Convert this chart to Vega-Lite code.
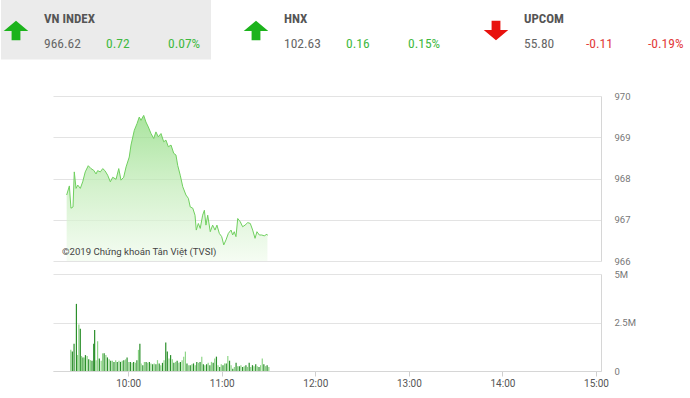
{
  "$schema": "https://vega.github.io/schema/vega-lite/v6.json",
  "padding": 0,
  "autosize": {"type": "pad"},
  "bounds": "flush",
  "spacing": 13,
  "background": "white",
  "config": {
    "view": {"stroke": null},
    "font": "Roboto",
    "axis": {"labelFont": "Roboto", "labelColor": "#777", "gridColor": "#e3e3e3", "domainColor": "#d6d6d6", "tickColor": "#cfcfcf"}
  },
  "datasets": {
    "header": [
      {"name": "VN INDEX", "slot": 0, "value": "966.62", "change": "0.72", "pct": "0.07%", "dir": "up", "selected": true},
      {"name": "HNX", "slot": 1, "value": "102.63", "change": "0.16", "pct": "0.15%", "dir": "up", "selected": false},
      {"name": "UPCOM", "slot": 2, "value": "55.80", "change": "-0.11", "pct": "-0.19%", "dir": "down", "selected": false}
    ],
    "note": [{"text": "©2019 Chứng khoán Tân Việt (TVSI)", "m": 560.7, "p": 966.22}],
    "price": [
      {"m": 563.6, "p": 967.60}, {"m": 565.3, "p": 967.82}, {"m": 566.3, "p": 967.28}, {"m": 567.6, "p": 967.31},
      {"m": 568.4, "p": 968.16}, {"m": 569.5, "p": 967.76}, {"m": 570.6, "p": 967.84}, {"m": 572.2, "p": 967.76},
      {"m": 573.7, "p": 967.92}, {"m": 575.3, "p": 968.16}, {"m": 577.2, "p": 968.31}, {"m": 578.9, "p": 968.24},
      {"m": 580.6, "p": 968.20}, {"m": 582.1, "p": 968.11}, {"m": 583.1, "p": 968.19}, {"m": 584.8, "p": 968.16},
      {"m": 586.3, "p": 968.24}, {"m": 587.7, "p": 968.19}, {"m": 589.4, "p": 968.08}, {"m": 591.1, "p": 967.92},
      {"m": 592.6, "p": 968.03}, {"m": 594.7, "p": 967.98}, {"m": 596.4, "p": 968.24}, {"m": 597.8, "p": 967.96},
      {"m": 599.5, "p": 968.03}, {"m": 601.0, "p": 968.28}, {"m": 603.0, "p": 968.52}, {"m": 604.1, "p": 968.81},
      {"m": 606.2, "p": 969.17}, {"m": 607.9, "p": 969.33}, {"m": 609.3, "p": 969.49}, {"m": 610.4, "p": 969.41},
      {"m": 612.1, "p": 969.53}, {"m": 613.5, "p": 969.37}, {"m": 615.0, "p": 969.25}, {"m": 616.7, "p": 969.09},
      {"m": 618.4, "p": 968.97}, {"m": 619.8, "p": 969.13}, {"m": 621.3, "p": 969.01}, {"m": 623.0, "p": 969.09},
      {"m": 624.7, "p": 968.89}, {"m": 626.1, "p": 968.93}, {"m": 627.6, "p": 968.77}, {"m": 629.3, "p": 968.81},
      {"m": 631.0, "p": 968.61}, {"m": 632.4, "p": 968.57}, {"m": 633.5, "p": 968.32}, {"m": 635.1, "p": 968.08},
      {"m": 636.7, "p": 967.80}, {"m": 638.7, "p": 967.60}, {"m": 640.2, "p": 967.52}, {"m": 641.4, "p": 967.31},
      {"m": 643.0, "p": 967.28}, {"m": 644.4, "p": 967.11}, {"m": 645.2, "p": 966.75}, {"m": 646.5, "p": 966.91},
      {"m": 647.7, "p": 966.79}, {"m": 649.2, "p": 967.11}, {"m": 650.3, "p": 967.23}, {"m": 651.3, "p": 966.87},
      {"m": 652.4, "p": 967.11}, {"m": 654.0, "p": 966.71}, {"m": 655.5, "p": 966.87}, {"m": 657.0, "p": 966.75},
      {"m": 658.2, "p": 966.87}, {"m": 659.7, "p": 966.67}, {"m": 661.2, "p": 966.59}, {"m": 662.5, "p": 966.39},
      {"m": 663.9, "p": 966.51}, {"m": 665.4, "p": 966.67}, {"m": 667.1, "p": 966.75}, {"m": 668.1, "p": 966.63},
      {"m": 669.1, "p": 966.71}, {"m": 670.2, "p": 966.59}, {"m": 671.3, "p": 967.03}, {"m": 672.9, "p": 966.95},
      {"m": 674.4, "p": 966.83}, {"m": 675.9, "p": 966.87}, {"m": 677.6, "p": 966.93}, {"m": 679.2, "p": 966.91},
      {"m": 680.7, "p": 966.75}, {"m": 682.2, "p": 966.55}, {"m": 683.4, "p": 966.71}, {"m": 684.9, "p": 966.63},
      {"m": 686.4, "p": 966.63}, {"m": 688.0, "p": 966.61}, {"m": 689.7, "p": 966.65}, {"m": 690.0, "p": 966.62}
    ],
    "volume": [
      {"m": 563.2, "v": 1.09, "d": "d"}, {"m": 564.2, "v": 1.00, "d": "u"}, {"m": 565.3, "v": 1.40, "d": "u"}, {"m": 566.8, "v": 3.46, "d": "u"},
      {"m": 567.6, "v": 0.82, "d": "d"}, {"m": 568.4, "v": 2.40, "d": "d"}, {"m": 569.3, "v": 2.18, "d": "u"}, {"m": 570.1, "v": 0.77, "d": "d"},
      {"m": 571.0, "v": 0.70, "d": "u"}, {"m": 571.8, "v": 0.70, "d": "d"}, {"m": 572.6, "v": 0.82, "d": "u"}, {"m": 573.7, "v": 0.77, "d": "d"},
      {"m": 574.7, "v": 0.60, "d": "u"}, {"m": 575.8, "v": 0.56, "d": "d"}, {"m": 576.8, "v": 0.53, "d": "u"}, {"m": 577.9, "v": 1.40, "d": "u"},
      {"m": 578.5, "v": 2.11, "d": "u"}, {"m": 579.4, "v": 0.56, "d": "d"}, {"m": 580.4, "v": 1.53, "d": "d"}, {"m": 581.5, "v": 0.65, "d": "u"},
      {"m": 582.7, "v": 0.53, "d": "d"}, {"m": 583.6, "v": 0.91, "d": "d"}, {"m": 584.6, "v": 0.91, "d": "u"}, {"m": 585.7, "v": 0.82, "d": "d"},
      {"m": 586.7, "v": 0.70, "d": "u"}, {"m": 587.8, "v": 0.60, "d": "d"}, {"m": 588.8, "v": 0.53, "d": "u"}, {"m": 589.9, "v": 0.53, "d": "d"},
      {"m": 590.9, "v": 0.47, "d": "u"}, {"m": 592.0, "v": 0.56, "d": "d"}, {"m": 593.0, "v": 0.47, "d": "u"}, {"m": 594.1, "v": 0.53, "d": "d"},
      {"m": 595.1, "v": 0.47, "d": "u"}, {"m": 596.2, "v": 0.53, "d": "d"}, {"m": 597.2, "v": 0.56, "d": "u"}, {"m": 598.3, "v": 0.60, "d": "d"},
      {"m": 599.3, "v": 0.70, "d": "u"}, {"m": 600.4, "v": 0.47, "d": "d"}, {"m": 601.4, "v": 0.47, "d": "u"}, {"m": 602.5, "v": 0.42, "d": "d"},
      {"m": 603.5, "v": 0.47, "d": "u"}, {"m": 604.6, "v": 0.42, "d": "d"}, {"m": 605.6, "v": 0.56, "d": "u"}, {"m": 606.6, "v": 1.09, "d": "d"},
      {"m": 607.5, "v": 1.40, "d": "u"}, {"m": 608.3, "v": 0.39, "d": "d"}, {"m": 609.4, "v": 0.30, "d": "u"}, {"m": 610.4, "v": 0.47, "d": "d"},
      {"m": 611.5, "v": 0.47, "d": "u"}, {"m": 612.5, "v": 0.42, "d": "d"}, {"m": 613.6, "v": 0.47, "d": "u"}, {"m": 614.6, "v": 0.39, "d": "d"},
      {"m": 615.7, "v": 0.35, "d": "u"}, {"m": 616.7, "v": 0.39, "d": "d"}, {"m": 617.8, "v": 0.35, "d": "u"}, {"m": 618.8, "v": 0.56, "d": "d"},
      {"m": 619.9, "v": 0.39, "d": "u"}, {"m": 620.9, "v": 0.30, "d": "d"}, {"m": 622.0, "v": 0.42, "d": "u"}, {"m": 623.0, "v": 0.56, "d": "d"},
      {"m": 624.1, "v": 1.47, "d": "u"}, {"m": 625.1, "v": 1.00, "d": "u"}, {"m": 626.2, "v": 0.65, "d": "d"}, {"m": 627.2, "v": 0.82, "d": "u"},
      {"m": 628.3, "v": 0.60, "d": "d"}, {"m": 629.3, "v": 0.42, "d": "u"}, {"m": 630.4, "v": 0.47, "d": "d"}, {"m": 631.4, "v": 0.53, "d": "u"},
      {"m": 632.5, "v": 0.42, "d": "d"}, {"m": 633.5, "v": 0.47, "d": "u"}, {"m": 634.6, "v": 0.56, "d": "d"}, {"m": 635.6, "v": 0.74, "d": "d"},
      {"m": 636.7, "v": 1.00, "d": "d"}, {"m": 637.7, "v": 0.39, "d": "u"}, {"m": 638.8, "v": 0.30, "d": "d"}, {"m": 639.8, "v": 0.30, "d": "u"},
      {"m": 640.9, "v": 0.35, "d": "d"}, {"m": 641.9, "v": 0.39, "d": "u"}, {"m": 643.0, "v": 0.30, "d": "d"}, {"m": 644.0, "v": 0.47, "d": "u"},
      {"m": 645.1, "v": 0.42, "d": "d"}, {"m": 646.1, "v": 0.47, "d": "u"}, {"m": 647.2, "v": 0.74, "d": "d"}, {"m": 648.2, "v": 0.35, "d": "u"},
      {"m": 649.2, "v": 0.30, "d": "d"}, {"m": 650.3, "v": 0.35, "d": "u"}, {"m": 651.3, "v": 0.42, "d": "d"}, {"m": 652.4, "v": 0.30, "d": "u"},
      {"m": 653.4, "v": 0.47, "d": "d"}, {"m": 654.5, "v": 0.42, "d": "u"}, {"m": 655.5, "v": 0.65, "d": "d"}, {"m": 656.6, "v": 0.74, "d": "u"},
      {"m": 657.6, "v": 0.30, "d": "d"}, {"m": 658.7, "v": 0.21, "d": "u"}, {"m": 659.7, "v": 0.35, "d": "d"}, {"m": 660.8, "v": 0.30, "d": "u"},
      {"m": 661.8, "v": 0.39, "d": "d"}, {"m": 662.9, "v": 0.39, "d": "u"}, {"m": 663.9, "v": 0.77, "d": "d"}, {"m": 665.0, "v": 0.53, "d": "u"},
      {"m": 666.0, "v": 0.30, "d": "d"}, {"m": 667.1, "v": 0.12, "d": "u"}, {"m": 668.1, "v": 0.21, "d": "d"}, {"m": 669.2, "v": 0.42, "d": "u"},
      {"m": 670.2, "v": 0.25, "d": "d"}, {"m": 671.3, "v": 0.25, "d": "u"}, {"m": 672.3, "v": 0.30, "d": "d"}, {"m": 673.4, "v": 0.21, "d": "u"},
      {"m": 674.4, "v": 0.25, "d": "d"}, {"m": 675.5, "v": 0.30, "d": "u"}, {"m": 676.5, "v": 0.21, "d": "d"}, {"m": 677.6, "v": 0.42, "d": "u"},
      {"m": 678.6, "v": 0.21, "d": "d"}, {"m": 679.7, "v": 0.30, "d": "u"}, {"m": 680.7, "v": 0.25, "d": "d"}, {"m": 681.8, "v": 0.35, "d": "u"},
      {"m": 682.8, "v": 0.25, "d": "d"}, {"m": 683.9, "v": 0.21, "d": "u"}, {"m": 684.9, "v": 0.30, "d": "d"}, {"m": 686.0, "v": 0.65, "d": "d"},
      {"m": 687.0, "v": 0.35, "d": "u"}, {"m": 688.1, "v": 0.25, "d": "d"}, {"m": 689.1, "v": 0.30, "d": "u"}, {"m": 690.2, "v": 0.21, "d": "d"}
    ]
  },
  "vconcat": [
    {
      "width": 638,
      "height": 83,
      "data": {"name": "header"},
      "encoding": {
        "x": {"field": "slot", "type": "quantitative", "scale": {"domain": [0.216667, 2.875], "nice": false, "zero": false}, "axis": null}
      },
      "layer": [
        {
          "transform": [{"filter": "datum.selected"}],
          "mark": {"type": "rect", "color": "#ebebeb"},
          "encoding": {
            "x2": {"datum": 0.875},
            "y": {"datum": 0, "type": "quantitative", "scale": {"domain": [0, 83], "reverse": true, "nice": false, "zero": false}, "axis": null},
            "y2": {"datum": 59.5}
          }
        },
        {
          "transform": [{"filter": "datum.dir === 'up'"}],
          "mark": {"type": "point", "filled": true, "opacity": 1, "size": 600, "xOffset": 15, "color": "#1cb31c",
                   "shape": "M0,-0.8 L1,0.04 L0.36,0.04 L0.36,0.8 L-0.36,0.8 L-0.36,0.04 L-1,0.04 Z"},
          "encoding": {"y": {"datum": 30.5, "type": "quantitative"}}
        },
        {
          "transform": [{"filter": "datum.dir === 'down'"}],
          "mark": {"type": "point", "filled": true, "opacity": 1, "size": 600, "xOffset": 15, "color": "#e8120e",
                   "shape": "M0,0.8 L1,-0.04 L0.36,-0.04 L0.36,-0.8 L-0.36,-0.8 L-0.36,-0.04 L-1,-0.04 Z"},
          "encoding": {"y": {"datum": 30.5, "type": "quantitative"}}
        },
        {
          "mark": {"type": "text", "align": "left", "baseline": "middle", "dx": 43, "fontSize": 13, "fontWeight": "bold", "color": "#555",
                   "font": "Roboto Condensed, Liberation Sans Narrow, Roboto"},
          "encoding": {"y": {"datum": 19, "type": "quantitative"}, "text": {"field": "name"}}
        },
        {
          "mark": {"type": "text", "align": "left", "baseline": "middle", "dx": 43, "fontSize": 13.5, "color": "#666",
                   "font": "Roboto Condensed, Liberation Sans Narrow, Roboto"},
          "encoding": {"y": {"datum": 44, "type": "quantitative"}, "text": {"field": "value"}}
        },
        {
          "mark": {"type": "text", "align": "left", "baseline": "middle", "dx": 105, "fontSize": 13.5,
                   "font": "Roboto Condensed, Liberation Sans Narrow, Roboto"},
          "encoding": {
            "y": {"datum": 44, "type": "quantitative"},
            "text": {"field": "change"},
            "color": {"condition": {"test": "datum.dir === 'up'", "value": "#3fb93f"}, "value": "#e23a3a"}
          }
        },
        {
          "mark": {"type": "text", "align": "left", "baseline": "middle", "dx": 167, "fontSize": 13.5,
                   "font": "Roboto Condensed, Liberation Sans Narrow, Roboto"},
          "encoding": {
            "y": {"datum": 44, "type": "quantitative"},
            "text": {"field": "pct"},
            "color": {"condition": {"test": "datum.dir === 'up'", "value": "#3fb93f"}, "value": "#e23a3a"}
          }
        }
      ]
    },
    {
      "width": 548,
      "height": 165,
      "layer": [
        {
          "data": {"name": "price"},
          "mark": {
            "type": "area",
            "interpolate": "linear",
            "line": {"color": "#70d05f", "strokeWidth": 1},
            "color": {"gradient": "linear", "x1": 0, "y1": 0, "x2": 0, "y2": 1,
                      "stops": [{"offset": 0, "color": "#86d976"}, {"offset": 0.5, "color": "#c2ecb8"}, {"offset": 1, "color": "#f1fbee"}]}
          },
          "encoding": {
            "x": {"field": "m", "type": "quantitative", "scale": {"domain": [555, 900], "nice": false, "zero": false}, "axis": null},
            "y": {"field": "p", "type": "quantitative", "scale": {"domain": [966, 970], "nice": false, "zero": false},
                  "axis": {"orient": "right", "title": null, "values": [966, 967, 968, 969, 970], "grid": true, "ticks": false,
                           "labelPadding": 13, "labelFontSize": 9.5, "labelColor": "#777", "domain": true}},
            "y2": {"datum": 966}
          }
        },
        {
          "data": {"name": "note"},
          "mark": {"type": "text", "align": "left", "baseline": "middle", "fontSize": 9.6, "color": "#444", "font": "Roboto"},
          "encoding": {
            "x": {"field": "m", "type": "quantitative"},
            "y": {"field": "p", "type": "quantitative"},
            "text": {"field": "text"}
          }
        }
      ]
    },
    {
      "width": 548,
      "height": 97,
      "data": {"name": "volume"},
      "mark": {"type": "bar", "width": 1.2},
      "encoding": {
        "x": {"field": "m", "type": "quantitative", "scale": {"domain": [555, 900], "nice": false, "zero": false},
              "axis": {"title": null, "values": [600, 660, 720, 780, 840, 900], "labelExpr": "floor(datum.value / 60) + ':00'",
                       "grid": false, "tickSize": 5, "labelPadding": 2, "labelFontSize": 10, "labelColor": "#555", "labelFlush": false}},
        "y": {"field": "v", "type": "quantitative", "scale": {"domain": [0, 5], "nice": false},
              "axis": {"orient": "right", "title": null, "values": [0, 2.5, 5], "labelExpr": "datum.value === 0 ? '0' : datum.value + 'M'",
                       "grid": true, "ticks": false, "labelPadding": 13, "labelFontSize": 9.5, "labelColor": "#777"}},
        "color": {"field": "d", "type": "nominal", "scale": {"domain": ["u", "d"], "range": ["#2b8f2b", "#8fd688"]}, "legend": null}
      }
    }
  ]
}
